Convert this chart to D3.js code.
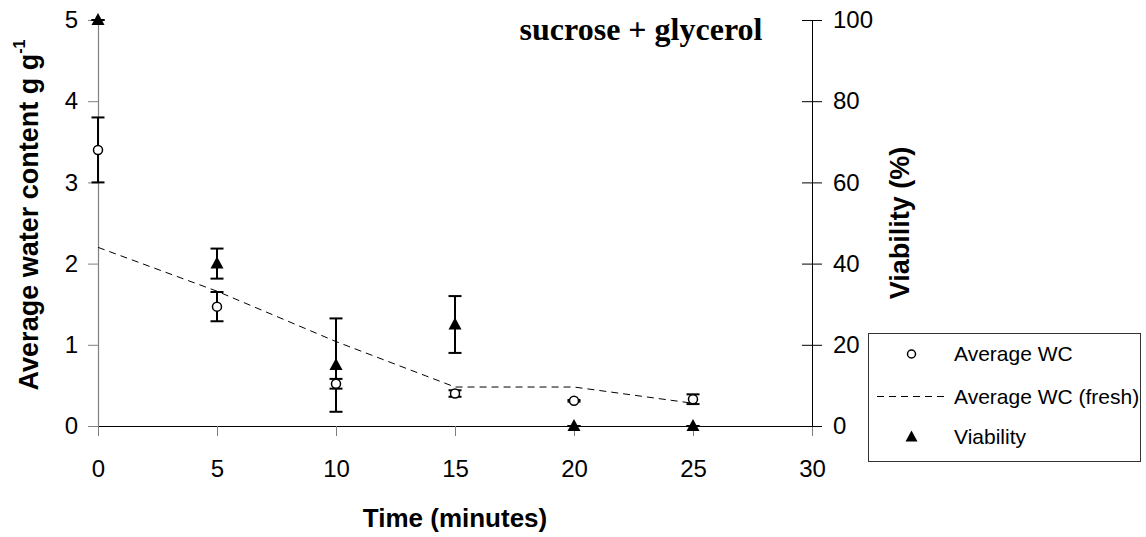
<!doctype html>
<html lang="en">
<head>
	<meta charset="UTF-8">
	<title>sucrose + glycerol</title>
	<script src="https://cdn.jsdelivr.net/npm/d3@7/dist/d3.min.js"></script>
	<style>
		body { margin: 0; background: #fff; }
		svg text { font-family: "Liberation Sans", Arial, sans-serif; fill: #000; }
	</style>
</head>
<body>
<div id="container"></div>
<script>
	var width = 1146, height = 537;
	var margin = {left: 98, top: 20, right: 334, bottom: 111};
	var g_width = width - margin.left - margin.right;   // 714
	var g_height = height - margin.top - margin.bottom; // 406

	// data
	var times = [0, 5, 10, 15, 20, 25];
	var wc_mean = [3.40, 1.47, 0.52, 0.40, 0.31, 0.33];
	var wc_err = [0.40, 0.18, 0.06, 0.04, 0.01, 0.06];
	var wc_fresh = [2.20, 1.66, 1.04, 0.48, 0.48, 0.28];
	var viability = [100, 40, 15, 25, 0, 0];
	var viability_err = [0, 3.7, 11.5, 7, 0, 0];

	var x_ticks = [0, 5, 10, 15, 20, 25, 30];
	var y_ticks = [0, 1, 2, 3, 4, 5];
	var y2_ticks = [0, 20, 40, 60, 80, 100];
	var legend_labels = ["Average WC", "Average WC (fresh)", "Viability"];

	var scale_x = d3.scaleLinear().domain([0, 30]).range([0, g_width]);
	var scale_y = d3.scaleLinear().domain([0, 5]).range([g_height, 0]);
	var scale_y2 = d3.scaleLinear().domain([0, 100]).range([g_height, 0]);

	var svg = d3.select("#container")
			.append("svg")
			.attr("width", width)
			.attr("height", height);

	var g = svg.append("g")
			.attr("transform", "translate(" + margin.left + "," + margin.top + ")");

	// left axis (grey)
	var y_axis = g.append("g")
			.call(d3.axisLeft(scale_y).tickValues(y_ticks).tickFormat(d3.format("d"))
					.tickSize(10).tickSizeOuter(0).tickPadding(10));
	y_axis.select(".domain").attr("stroke", "#808080").attr("stroke-width", 1.2);
	y_axis.selectAll(".tick line").attr("stroke", "#808080");
	y_axis.selectAll(".tick text").attr("font-size", 24).attr("font-family", "Liberation Sans, Arial, sans-serif");

	// bottom axis
	var x_axis = g.append("g")
			.attr("transform", "translate(0," + g_height + ")")
			.call(d3.axisBottom(scale_x).tickValues(x_ticks).tickFormat(d3.format("d"))
					.tickSize(10).tickSizeOuter(0).tickPadding(24));
	x_axis.select(".domain").attr("stroke", "#000").attr("stroke-width", 1.2);
	x_axis.selectAll(".tick line").attr("stroke", "#808080");
	x_axis.selectAll(".tick text").attr("font-size", 24).attr("font-family", "Liberation Sans, Arial, sans-serif");

	// right axis, ticks cross the line
	var y2_axis = g.append("g")
			.attr("transform", "translate(" + g_width + ",0)")
			.call(d3.axisRight(scale_y2).tickValues(y2_ticks).tickFormat(d3.format("d"))
					.tickSize(10).tickSizeOuter(0).tickPadding(11));
	y2_axis.select(".domain").attr("stroke", "#000");
	y2_axis.selectAll(".tick line").attr("x1", -10).attr("x2", 10).attr("stroke", "#000");
	y2_axis.selectAll(".tick text").attr("font-size", 24).attr("font-family", "Liberation Sans, Arial, sans-serif");

	// axis titles
	var y_title = svg.append("text")
			.attr("transform", "translate(38,215) rotate(-90)")
			.attr("text-anchor", "middle")
			.attr("font-size", 27)
			.attr("font-weight", "bold");
	y_title.append("tspan").text("Average water content g g");
	y_title.append("tspan").attr("font-size", 16).attr("dy", -13).text("-1");

	svg.append("text")
			.attr("transform", "translate(909," + (margin.top + g_height / 2) + ") rotate(-90)")
			.attr("text-anchor", "middle")
			.attr("font-size", 27)
			.attr("font-weight", "bold")
			.text("Viability (%)");

	svg.append("text")
			.attr("x", margin.left + scale_x(15))
			.attr("y", 527)
			.attr("text-anchor", "middle")
			.attr("font-size", 26)
			.attr("font-weight", "bold")
			.text("Time (minutes)");

	svg.append("text")
			.attr("x", 641)
			.attr("y", 40)
			.attr("text-anchor", "middle")
			.attr("font-size", 32)
			.attr("font-weight", "bold")
			.style("font-family", "Liberation Serif, Times New Roman, serif")
			.text("sucrose + glycerol");

	// fresh WC dashed line
	var line_generator = d3.line()
			.x(function (d, i) { return scale_x(times[i]); })
			.y(function (d) { return scale_y(d); });
	g.append("path")
			.attr("d", line_generator(wc_fresh))
			.attr("fill", "none")
			.attr("stroke", "#000")
			.attr("stroke-width", 1)
			.attr("stroke-dasharray", "7,5");

	// error bars
	function error_bars(values, errs, scale) {
		var eb = g.append("g").attr("stroke", "#000").attr("stroke-width", 2);
		times.forEach(function (t, i) {
			var x = scale_x(t);
			var y1 = scale(values[i] + errs[i]);
			var y0 = scale(values[i] - errs[i]);
			eb.append("line").attr("x1", x).attr("x2", x).attr("y1", y1).attr("y2", y0);
			eb.append("line").attr("x1", x - 6.5).attr("x2", x + 6.5).attr("y1", y1).attr("y2", y1);
			eb.append("line").attr("x1", x - 6.5).attr("x2", x + 6.5).attr("y1", y0).attr("y2", y0);
		});
	}
	error_bars(wc_mean, wc_err, scale_y);
	error_bars(viability, viability_err, scale_y2);

	var tri = "M0,-7L6.5,5L-6.5,5Z";

	g.selectAll(".wc")
			.data(wc_mean)
			.enter().append("circle")
			.attr("cx", function (d, i) { return scale_x(times[i]); })
			.attr("cy", function (d) { return scale_y(d); })
			.attr("r", 4.5)
			.attr("fill", "#fff")
			.attr("stroke", "#000")
			.attr("stroke-width", 1.5);

	g.selectAll(".via")
			.data(viability)
			.enter().append("path")
			.attr("d", tri)
			.attr("transform", function (d, i) {
				return "translate(" + scale_x(times[i]) + "," + scale_y2(d) + ")";
			})
			.attr("fill", "#000");

	// legend
	var legend = svg.append("g").attr("transform", "translate(868,333)");
	legend.append("rect")
			.attr("x", 0.5).attr("y", 0.5)
			.attr("width", 272).attr("height", 128)
			.attr("fill", "#fff")
			.attr("stroke", "#333");
	var rows = [21, 63.5, 103.5];
	legend.append("circle")
			.attr("cx", 43.5).attr("cy", rows[0]).attr("r", 4)
			.attr("fill", "#fff").attr("stroke", "#000").attr("stroke-width", 1.5);
	legend.append("line")
			.attr("x1", 9).attr("x2", 79).attr("y1", rows[1]).attr("y2", rows[1])
			.attr("stroke", "#000").attr("stroke-dasharray", "7,5");
	legend.append("path")
			.attr("d", "M0,-6L6,5L-6,5Z")
			.attr("transform", "translate(43.5," + rows[2] + ")")
			.attr("fill", "#000");
	legend.selectAll(".lbl")
			.data(legend_labels)
			.enter().append("text")
			.attr("x", 86)
			.attr("y", function (d, i) { return rows[i]; })
			.attr("dy", "0.35em")
			.attr("font-size", 21)
			.text(function (d) { return d; });
</script>
</body>
</html>
